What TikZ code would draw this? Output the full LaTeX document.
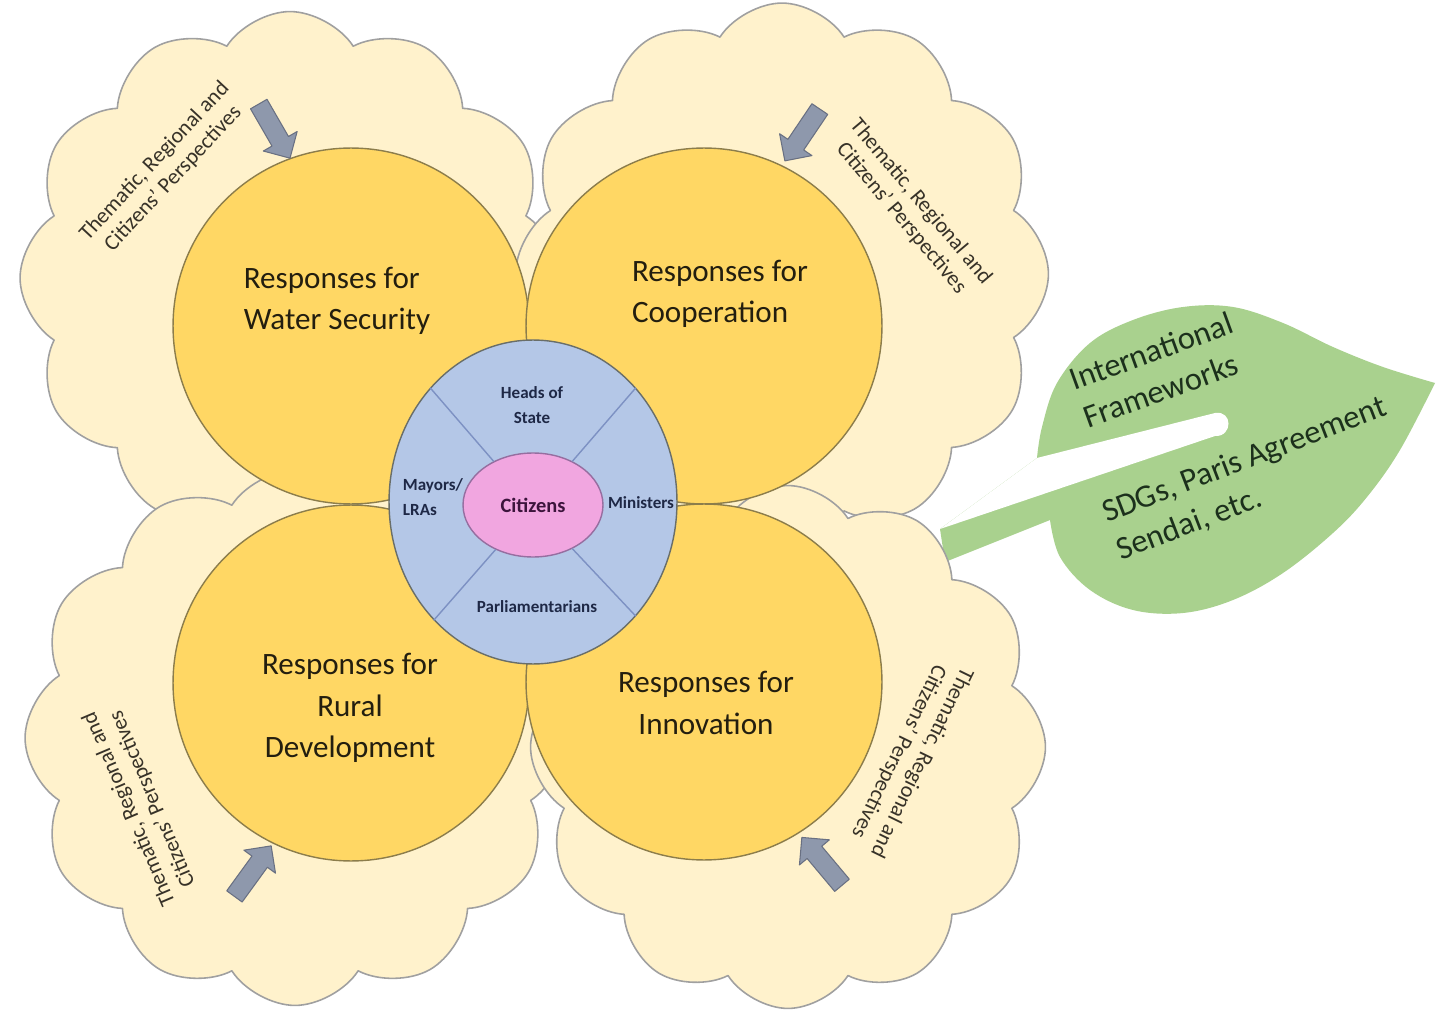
\documentclass[tikz,border=0pt]{standalone}
\usepackage{fontspec}
\setmainfont{Carlito}
\usetikzlibrary{
    shapes.arrows,
    shapes.geometric,
    shapes.symbols
}
\definecolor{cloudfill}{RGB}{255,242,204}
\definecolor{cloudline}{RGB}{160,160,160}
\definecolor{ringfill}{RGB}{255,215,100}
\definecolor{ringline}{RGB}{140,125,75}
\definecolor{resptext}{RGB}{35,30,15}
\definecolor{persptext}{RGB}{55,50,40}
\definecolor{actorfill}{RGB}{180,199,231}
\definecolor{actorline}{RGB}{105,110,105}
\definecolor{actortext}{RGB}{30,40,70}
\definecolor{dividerline}{RGB}{125,145,195}
\definecolor{citizenfill}{RGB}{241,166,224}
\definecolor{citizenline}{RGB}{150,110,160}
\definecolor{citizentext}{RGB}{60,20,60}
\definecolor{arrowfill}{RGB}{142,152,172}
\definecolor{arrowline}{RGB}{105,112,130}
\definecolor{leafgreen}{RGB}{169,209,142}
\definecolor{leafink}{RGB}{28,48,28}
\tikzset{
    every picture/.style = {
        line join = round
    },
    cloudbg/.style = {
        cloud,
        cloud puffs = 12,
        cloud puff arc = 115,
        cloud ignores aspect,
        draw = cloudline,
        fill = cloudfill,
        line width = 0.9pt
    },
    response/.style = {
        circle,
        draw = ringline,
        fill = ringfill,
        line width = 0.8pt,
        minimum size = 7.12cm,
        inner sep = 0pt
    },
    resplabel/.style = {
        font = \fontsize{17.7}{23.5}\selectfont,
        text = resptext,
        inner sep = 0pt
    },
    perspective/.style = {
        font = \fontsize{12.5}{14.5}\selectfont,
        text = persptext,
        align = center,
        inner sep = 0pt
    },
    greyarrow/.style = {
        single arrow,
        draw = arrowline,
        fill = arrowfill,
        line width = 0.6pt,
        minimum height = 1.25cm,
        single arrow head extend = 0.2cm,
        inner xsep = 0pt,
        inner ysep = 0.18cm
    },
    actor/.style = {
        font = \bfseries\fontsize{9.7}{13.8}\selectfont,
        text = actortext,
        inner sep = 0pt
    },
    divider/.style = {
        draw = dividerline,
        line width = 0.8pt
    },
    leaftext/.style = {
        font = \fontsize{18.5}{23}\selectfont,
        text = leafink,
        align = left,
        inner sep = 0pt
    }
}

\begin{document}
\begin{tikzpicture}[x=0.02cm, y=-0.02cm]
    \useasboundingbox (0,0) rectangle (1441,1010);
    \fill[white] (0,0) rectangle (1441,1010);
    % leaf, its stem runs in under the clouds
    \fill[leafgreen] (940,529) -- (1037,458)
        -- plot[smooth, tension=0.6] coordinates {(1037,458) (1042,427) (1057,383) (1090,343) (1133,320) (1183,307) (1233,307) (1283,323) (1333,347) (1383,367) (1435,383)}
        -- plot[smooth, tension=0.6] coordinates {(1435,383) (1400,450) (1367,497) (1333,533) (1283,573) (1233,600) (1183,613) (1133,610) (1090,590) (1060,557) (1050,520)}
        -- (945,562) -- cycle;
    \fill[white] (1037,458) -- (1215,413) .. controls (1233,410) and (1233,437) .. (1215,436) -- (940,529) -- cycle;
    % clouds
    \node[cloudbg, minimum width=10.8cm, minimum height=10.66cm] (cloudnw) at (290,278) {};
    \node[cloudbg, minimum width=10.66cm, minimum height=10.84cm] (cloudne) at (782,274) {};
    \node[cloudbg, minimum width=10.8cm, minimum height=10.7cm] (cloudsw) at (295,738) {};
    \node[cloudbg, minimum width=10.3cm, minimum height=10.46cm] (cloudse) at (788,747) {};
    % four responses
    \node[response] (water) at (351,326) {};
    \node[response] (coop) at (704,326) {};
    \node[response] (rural) at (351,683) {};
    \node[response] (innov) at (704,682) {};
    \node[resplabel, align=left] (waterlbl) at (337,301) {Responses for\\Water Security};
    \node[resplabel, align=left] (cooplbl) at (720,294) {Responses for\\Cooperation};
    \node[resplabel, align=center] (rurallbl) at (350,708) {Responses for\\Rural\\Development};
    \node[resplabel, align=center] (innovlbl) at (706,703) {Responses for\\Innovation};
    % centre
    \node[ellipse, draw=actorline, fill=actorfill, line width=0.8pt,
          minimum width=5.76cm, minimum height=6.48cm, inner sep=0pt] (actors) at (533,502) {};
    \node[ellipse, draw=citizenline, fill=citizenfill, line width=0.8pt,
          minimum width=2.8cm, minimum height=2.08cm, inner sep=0pt,
          font=\bfseries\fontsize{11.6}{14}\selectfont, text=citizentext] (citizens) at (533,505) {Citizens};
    \foreach \a in {48,132,230,312}
        \draw[divider] (citizens.\a) -- (actors.\a);
    \node[actor, align=center] (heads) at (532,405) {Heads of\\State};
    \node[actor, align=left] (mayors) at (433,497) {Mayors/\\LRAs};
    \node[actor] (ministers) at (641,503) {Ministers};
    \node[actor] (parl) at (537,607) {Parliamentarians};
    % perspectives
    \node[perspective, rotate=47] (perspnw) at (164,170) {Thematic, Regional and\\Citizens' Perspectives};
    \node[perspective, rotate=-50] (perspne) at (911,210) {Thematic, Regional and\\Citizens' Perspectives};
    \node[perspective, rotate=113] (perspsw) at (141,804) {Thematic, Regional and\\Citizens' Perspectives};
    \node[perspective, rotate=-116] (perspse) at (910,757) {Thematic, Regional and\\Citizens' Perspectives};
    \node[greyarrow, rotate=-60] (arrownw) at (272,127) {};
    \node[greyarrow, rotate=-124] (arrowne) at (805,131) {};
    \node[greyarrow, rotate=54] (arrowsw) at (250,875) {};
    \node[greyarrow, rotate=130] (arrowse) at (825,865) {};
    % leaf texts
    \node[leaftext, rotate=20] (frameworks) at (1158,370) {International\\Frameworks};
    \node[leaftext, rotate=21] (agreements) at (1252,479) {SDGs, Paris Agreement\\Sendai, etc.};
\end{tikzpicture}
\end{document}
